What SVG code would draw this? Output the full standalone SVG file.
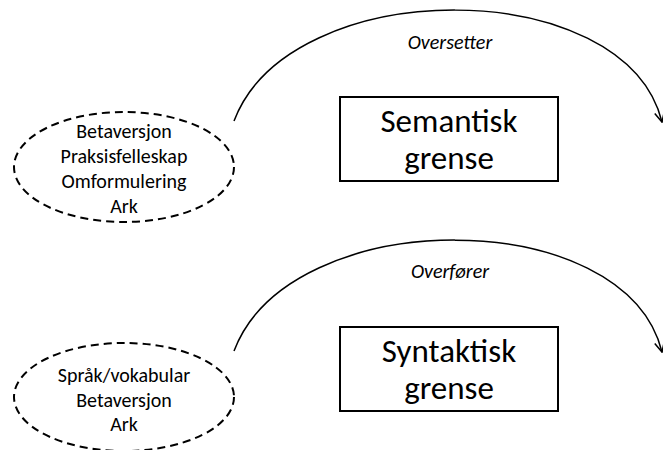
<svg xmlns="http://www.w3.org/2000/svg" width="663" height="450" viewBox="0 0 663 450">
<defs>
<style>
.ell{fill:none;stroke:#000;stroke-width:2;stroke-dasharray:8,5}
.box{fill:#fff;stroke:#000;stroke-width:2}
.arc{fill:none;stroke:#000;stroke-width:1.5}
.t{font-family:Carlito,"Open Sans","Liberation Sans",sans-serif;fill:#000;text-anchor:middle}
.s{font-size:20px}
.b{font-size:33px}
.i{font-size:20px;font-style:italic}
</style>
<marker id="arr" viewBox="0 0 12 12" refX="11" refY="6" markerWidth="12" markerHeight="12" markerUnits="userSpaceOnUse" orient="auto">
<path d="M1,1 L11,6 L1,11" fill="none" stroke="#000" stroke-width="1.5"/>
</marker>
</defs>
<rect width="663" height="450" fill="#fff"/>
<g id="connectors">
<path class="arc" d="M234,121 C290,-27 625,-27 662,122" marker-end="url(#arr)"/>
<path class="arc" d="M234,351 C290,203 625,203 662,352" marker-end="url(#arr)"/>
<text class="t i" x="450" y="49">Oversetter</text>
<text class="t i" x="450" y="278">Overfører</text>
</g>
<g id="ellipse1">
<ellipse class="ell" cx="124" cy="167" rx="110" ry="55"/>
<text class="t s" x="124" y="138">Betaversjon</text>
<text class="t s" x="124" y="163">Praksisfelleskap</text>
<text class="t s" x="124" y="188">Omformulering</text>
<text class="t s" x="124" y="213">Ark</text>
</g>
<g id="box1">
<rect class="box" x="340" y="97" width="218" height="84"/>
<text class="t b" x="449" y="132">Semantisk</text>
<text class="t b" x="449" y="169">grense</text>
</g>
<g id="ellipse2">
<ellipse class="ell" cx="124" cy="397" rx="110" ry="54"/>
<text class="t s" x="124" y="382">Språk/vokabular</text>
<text class="t s" x="124" y="407">Betaversjon</text>
<text class="t s" x="124" y="431">Ark</text>
</g>
<g id="box2">
<rect class="box" x="340" y="327" width="218" height="84"/>
<text class="t b" x="449" y="362">Syntaktisk</text>
<text class="t b" x="449" y="399">grense</text>
</g>
</svg>
